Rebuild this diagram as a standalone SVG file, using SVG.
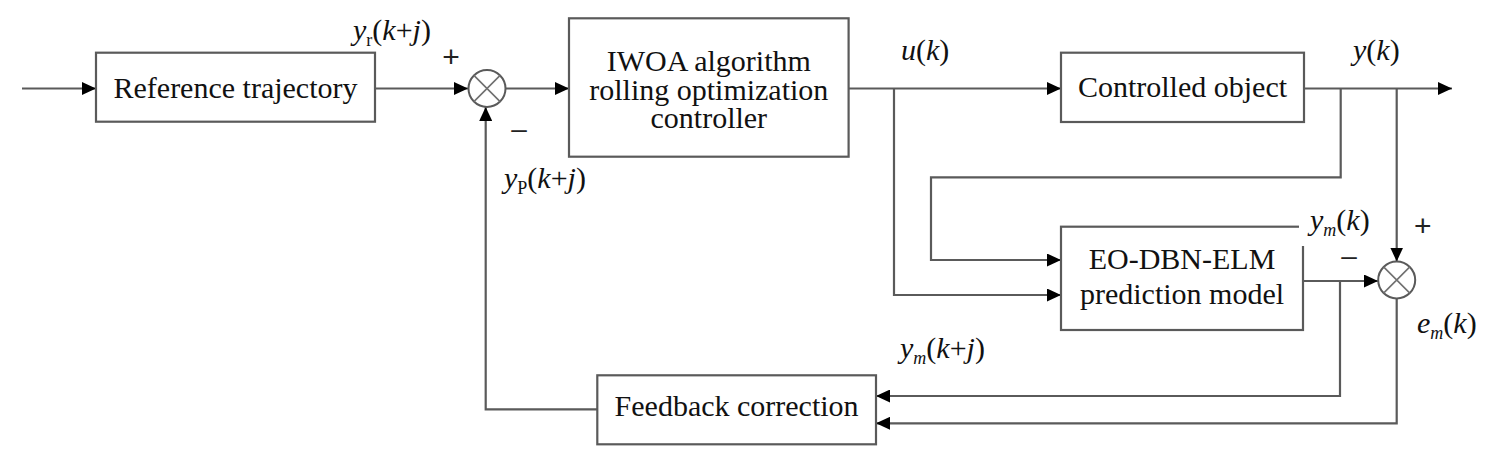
<svg xmlns="http://www.w3.org/2000/svg" width="1496" height="456" viewBox="0 0 1496 456">
<defs>
<marker id="arr" markerUnits="userSpaceOnUse" markerWidth="14" markerHeight="13" refX="14" refY="6.5" orient="auto">
<path d="M0,0 L14,6.5 L0,13 z" fill="#000"/>
</marker>
</defs>
<rect width="1496" height="456" fill="#fff"/>
<g id="connectors" fill="none" stroke="#5a5a5a" stroke-width="2.2" marker-end="url(#arr)">
<path d="M22,88.5 H96"/>
<path d="M375,88.5 H468"/>
<path d="M505.5,88.5 H569"/>
<path d="M848.6,88.5 H1061"/>
<path d="M894,88.5 V295 H1061"/>
<path d="M1304,88.5 H1452"/>
<path d="M1340.7,88.5 V177.3 H931 V260 H1061"/>
<path d="M1396.7,88.5 V261.5"/>
<path d="M1303,281 H1378"/>
<path d="M1340,281 V396 H876"/>
<path d="M1396.7,298.5 V423.3 H876"/>
<path d="M597,409.3 H485.7 V107"/>
</g>
<g id="sum1">
<circle cx="487" cy="88.5" r="18.5" fill="#fff" stroke="#5a5a5a" stroke-width="2"/>
<path d="M473.9,75.4 L500.1,101.6 M500.1,75.4 L473.9,101.6" stroke="#707070" stroke-width="1.6"/>
<text x="451" y="67" font-family="'Liberation Sans', sans-serif" font-size="30" fill="#222" text-anchor="middle">+</text>
<text x="519" y="138" font-family="'Liberation Sans', sans-serif" font-size="28" fill="#222" text-anchor="middle">–</text>
</g>
<g id="sum2">
<circle cx="1396.7" cy="280" r="18.5" fill="#fff" stroke="#5a5a5a" stroke-width="2"/>
<path d="M1383.6,266.9 L1409.8,293.1 M1409.8,266.9 L1383.6,293.1" stroke="#707070" stroke-width="1.6"/>
<text x="1422.7" y="236" font-family="'Liberation Sans', sans-serif" font-size="30" fill="#222" text-anchor="middle">+</text>
<text x="1349" y="265" font-family="'Liberation Sans', sans-serif" font-size="28" fill="#222" text-anchor="middle">–</text>
</g>
<g id="reference">
<rect x="96" y="52.7" width="279" height="69" fill="#fff" stroke="#5a5a5a" stroke-width="2.2"/>
<text x="235.5" y="97.5" font-family="'Liberation Serif', serif" font-size="30" fill="#111" text-anchor="middle">Reference trajectory</text>
</g>
<g id="iwoa">
<rect x="569" y="18.3" width="279.6" height="138.4" fill="#fff" stroke="#5a5a5a" stroke-width="2.2"/>
<text x="708.8" y="70.7" font-family="'Liberation Serif', serif" font-size="30" fill="#111" text-anchor="middle">IWOA algorithm</text>
<text x="708.8" y="99.5" font-family="'Liberation Serif', serif" font-size="30" fill="#111" text-anchor="middle">rolling optimization</text>
<text x="708.8" y="128.3" font-family="'Liberation Serif', serif" font-size="30" fill="#111" text-anchor="middle">controller</text>
</g>
<g id="controlled">
<rect x="1061" y="52.7" width="243" height="69.3" fill="#fff" stroke="#5a5a5a" stroke-width="2.2"/>
<text x="1182.5" y="96.7" font-family="'Liberation Serif', serif" font-size="30" fill="#111" text-anchor="middle">Controlled object</text>
</g>
<g id="model">
<rect x="1061" y="226.7" width="242" height="103.3" fill="#fff" stroke="#5a5a5a" stroke-width="2.2"/>
<text x="1182" y="269.3" font-family="'Liberation Serif', serif" font-size="30" fill="#111" text-anchor="middle">EO-DBN-ELM</text>
<text x="1182" y="304" font-family="'Liberation Serif', serif" font-size="30" fill="#111" text-anchor="middle">prediction model</text>
</g>
<g id="feedback">
<rect x="597.3" y="375.3" width="278.7" height="69" fill="#fff" stroke="#5a5a5a" stroke-width="2.2"/>
<text x="736.6" y="415.7" font-family="'Liberation Serif', serif" font-size="30" fill="#111" text-anchor="middle">Feedback correction</text>
</g>
<g id="labels" font-size="30" fill="#111">
<text x="353" y="40" font-family="'Liberation Serif', serif"><tspan font-style="italic">y</tspan><tspan font-size="18" dy="6">r</tspan><tspan dy="-6">(</tspan><tspan font-style="italic">k</tspan>+<tspan font-style="italic">j</tspan>)</text>
<text x="901" y="60" font-family="'Liberation Serif', serif"><tspan font-style="italic">u</tspan>(<tspan font-style="italic">k</tspan>)</text>
<text x="1353" y="60" font-family="'Liberation Serif', serif"><tspan font-style="italic">y</tspan>(<tspan font-style="italic">k</tspan>)</text>
<text x="504" y="188" font-family="'Liberation Serif', serif"><tspan font-style="italic">y</tspan><tspan font-size="18" dy="6">P</tspan><tspan dy="-6">(</tspan><tspan font-style="italic">k</tspan>+<tspan font-style="italic">j</tspan>)</text>
<rect x="1299" y="212" width="72" height="34" fill="#fff"/>
<text x="1310" y="230" font-family="'Liberation Serif', serif"><tspan font-style="italic">y</tspan><tspan font-style="italic" font-size="18" dy="6">m</tspan><tspan dy="-6">(</tspan><tspan font-style="italic">k</tspan>)</text>
<text x="1417" y="333" font-family="'Liberation Serif', serif"><tspan font-style="italic">e</tspan><tspan font-style="italic" font-size="18" dy="6">m</tspan><tspan dy="-6">(</tspan><tspan font-style="italic">k</tspan>)</text>
<text x="900" y="358" font-family="'Liberation Serif', serif"><tspan font-style="italic">y</tspan><tspan font-style="italic" font-size="18" dy="6">m</tspan><tspan dy="-6">(</tspan><tspan font-style="italic">k</tspan>+<tspan font-style="italic">j</tspan>)</text>
</g>
</svg>
